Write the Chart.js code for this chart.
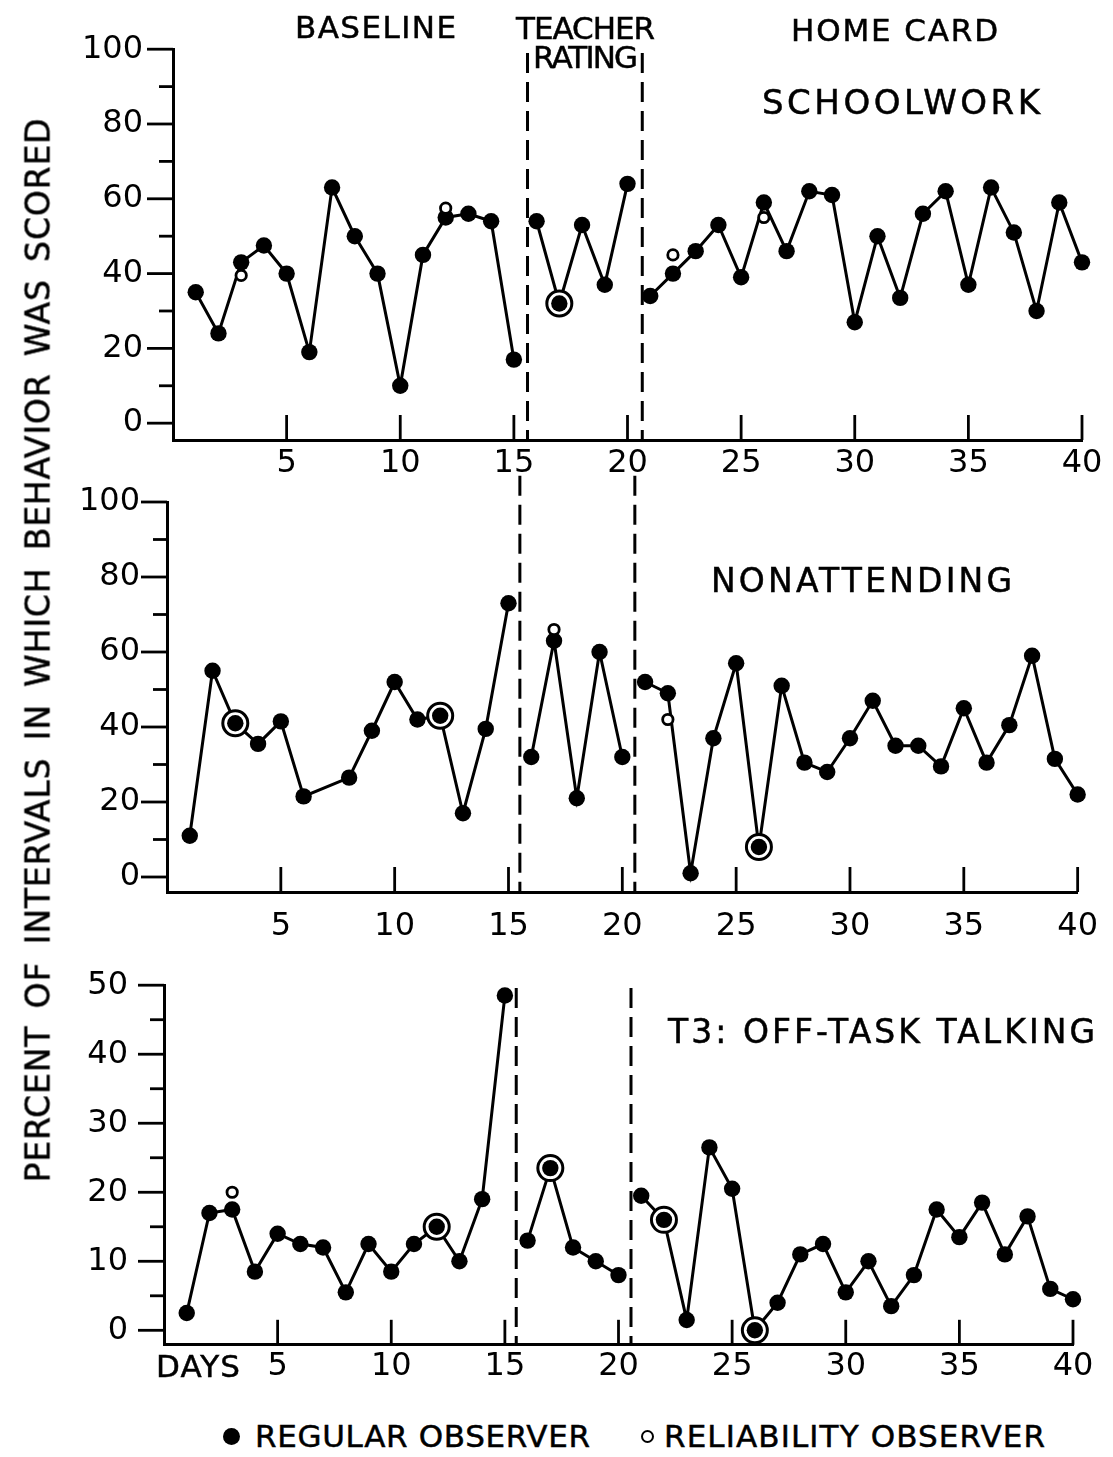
<!DOCTYPE html>
<html><head><meta charset="utf-8">
<script src="https://cdn.jsdelivr.net/npm/chart.js@4.4.1/dist/chart.umd.min.js"></script>
<style>
html,body{margin:0;padding:0;background:#fff;}
#wrap{position:relative;width:1113px;height:1457px;overflow:hidden;background:#fff;}
canvas{position:absolute;left:0;}
.t{position:absolute;white-space:nowrap;line-height:1;font-family:"DejaVu Sans",sans-serif;color:#000;-webkit-text-stroke:0.5px #000;}
.dot{position:absolute;border-radius:50%;box-sizing:border-box;}
</style></head><body><div id="wrap">
<canvas id="c1" width="1113" height="490" style="top:0px"></canvas>
<canvas id="c2" width="1113" height="500" style="top:440px"></canvas>
<canvas id="c3" width="1113" height="470" style="top:930px"></canvas>
</div>
<script>
// ---------- data ----------
const days = [1,2,3,4,5,6,7,8,9,10,11,12,13,14,15,16,17,18,19,20,21,22,23,24,25,26,27,28,29,30,31,32,33,34,35,36,37,38,39,40];
const phaseBreakAfter = [15, 20];
const xTickValues = [5,10,15,20,25,30,35,40];

const schoolwork = [35,24,43,47.5,40,19,63,50,40,10,45,55,56,54,17, 54,32,53,37,64, 34,40,46,53,39,59,46,62,61,27,50,33.5,56,62,37,63,51,30,59,43];
const schoolworkRelDays = [3,12,17,22,26];
const schoolworkRelValues = [39.5,57.5,32,45,55];

const nonattending = [11,55,41,35.5,41.5,21.5,null,26.5,39,52,42,43,17,39.5,73, 32,63,21,60,32, 52,49,1,37,57,8,51,30.5,28,37,47,35,35,29.5,45,30.5,40.5,59,31.5,22];
const nonattendingRelDays = [3,12,17,22,26];
const nonattendingRelValues = [41,43,66,42,8];

const offTask = [2.5,17,17.5,8.5,14,12.5,12,5.5,12.5,8.5,12.5,15,10,19,48.5, 13,23.5,12,10,8, 19.5,16,1.5,26.5,20.5,0,4,11,12.5,5.5,10,3.5,8,17.5,13.5,18.5,11,16.5,6,4.5];
const offTaskRelDays = [3,12,17,22,26];
const offTaskRelValues = [20,15,23.5,16,0];

const yTicks100 = [0,10,20,30,40,50,60,70,80,90,100];
const yTicks50 = [0,5,10,15,20,25,30,35,40,45,50];

// phase-change lines (day position)
const schoolworkPhaseX = [15.6, 20.65];
const nonattendingPhaseX = [15.5, 20.55];
const offTaskPhaseX = [15.5, 20.55];

// ---------- drawing ----------
const FONT = '"DejaVu Sans", sans-serif';
const handTicks = {
  id: 'handTicks',
  afterDraw(chart, args, o) {
    const {ctx, chartArea, scales} = chart;
    const x = scales.x, y = scales.y;
    ctx.save();
    ctx.strokeStyle = '#000';
    ctx.lineWidth = 2.8;
    ctx.lineCap = 'butt';
    o.xTicks.forEach(v => {
      const px = x.getPixelForValue(v);
      ctx.beginPath(); ctx.moveTo(px, chartArea.bottom); ctx.lineTo(px, chartArea.bottom - o.xLen); ctx.stroke();
    });
    o.yTicks.forEach(v => {
      const py = y.getPixelForValue(v);
      const len = (v % o.labelStep === 0) ? o.yMajor : o.yMinor;
      ctx.beginPath(); ctx.moveTo(chartArea.left, py); ctx.lineTo(chartArea.left - len, py); ctx.stroke();
    });
    ctx.restore();
  }
};

function makePanel(id, c) {
  const line = [];
  days.forEach((d, i) => { if (c.values[i] !== null) line.push({x: d, y: c.values[i]}); });
  const rings = [], opens = [];
  c.relDays.forEach((d, i) => {
    const reg = c.values[d - 1];
    if (reg === c.relValues[i]) rings.push({x: d, y: c.relValues[i]});
    else opens.push({x: d, y: c.relValues[i]});
  });
  const datasets = [];
  c.phaseX.forEach(px => {
    datasets.push({data: [{x: px, y: c.phaseTop}, {x: px, y: c.yMin}], borderColor: '#000', borderWidth: 3,
      borderDash: [20, 9], pointRadius: 0, clip: false, order: 6, tension: 0});
  });
  datasets.push({data: line, borderColor: '#000', borderWidth: 3, pointRadius: 0, spanGaps: true, clip: false, order: 5,
    segment: {borderColor: s => phaseBreakAfter.includes(s.p0.parsed.x) ? 'rgba(0,0,0,0)' : '#000'}});
  datasets.push({data: rings, showLine: false, pointRadius: 12.5, pointHoverRadius: 12.5, pointBorderWidth: 3,
    pointBackgroundColor: '#fff', pointBorderColor: '#000', clip: false, order: 3});
  datasets.push({data: line, showLine: false, pointRadius: 8.2, pointHoverRadius: 8.2, pointBorderWidth: 0,
    pointBackgroundColor: '#000', pointBorderColor: '#000', clip: false, order: 2});
  datasets.push({data: opens, showLine: false, pointRadius: 5.2, pointHoverRadius: 5.2, pointBorderWidth: 2.8,
    pointBackgroundColor: '#fff', pointBorderColor: '#000', clip: false, order: 1});

  new Chart(document.getElementById(id), {
    type: 'line',
    data: {datasets},
    plugins: [handTicks],
    options: {
      responsive: false, animation: false, events: [],
      layout: {padding: {left: 0, right: c.right, top: c.top, bottom: 0}, autoPadding: false},
      plugins: {legend: {display: false}, tooltip: {enabled: false},
        handTicks: {xTicks: xTickValues, yTicks: c.yTicks, labelStep: c.labelStep, xLen: 25, yMajor: 26, yMinor: 14}},
      scales: {
        x: {type: 'linear', min: 0, max: 40,
          afterBuildTicks: s => { s.ticks = xTickValues.map(v => ({value: v})); },
          afterFit: s => { s.height = c.xH; },
          grid: {display: true, drawOnChartArea: false, drawTicks: false},
          border: {display: true, color: '#000', width: 3},
          ticks: {padding: c.xPad, color: '#000', font: {family: FONT, size: 32}, maxRotation: 0, autoSkip: false}},
        y: {type: 'linear', min: c.yMin, max: c.yMax,
          afterBuildTicks: s => { s.ticks = c.yTicks.map(v => ({value: v})); },
          afterFit: s => { s.width = c.left; },
          grid: {display: true, drawOnChartArea: false, drawTicks: false},
          border: {display: true, color: '#000', width: 3},
          ticks: {padding: c.yPad, color: '#000', font: {family: FONT, size: 32}, autoSkip: false,
            callback: v => (v % c.labelStep === 0 ? String(v) : '')}}
      }
    }
  });
}

makePanel('c1', {values: schoolwork, relDays: schoolworkRelDays, relValues: schoolworkRelValues, phaseX: schoolworkPhaseX,
  phaseTop: 99, yMin: -4.5, yMax: 100, yTicks: yTicks100, labelStep: 20, left: 173, right: 31, top: 46, xH: 50, xPad: 4, yPad: 30});
makePanel('c2', {values: nonattending, relDays: nonattendingRelDays, relValues: nonattendingRelValues, phaseX: nonattendingPhaseX,
  phaseTop: 107, yMin: -4, yMax: 100, yTicks: yTicks100, labelStep: 20, left: 167, right: 34, top: 62, xH: 48, xPad: 15, yPad: 27});
makePanel('c3', {values: offTask, relDays: offTaskRelDays, relValues: offTaskRelValues, phaseX: offTaskPhaseX,
  phaseTop: 49.6, yMin: -2.1, yMax: 50, yTicks: yTicks50, labelStep: 10, left: 164, right: 40, top: 25, xH: 52, xPad: 3, yPad: 36});

// ---------- text ----------
const wrap = document.getElementById('wrap');
const mctx = document.createElement('canvas').getContext('2d');
function fitSpacing(text, fs, target) {
  mctx.font = fs + 'px ' + FONT;
  const w = mctx.measureText(text).width;
  return (target - w) / Math.max(1, text.length - 1);
}
function place(text, x1, x2, cy, fs) {
  const el = document.createElement('div');
  el.className = 't'; el.textContent = text;
  el.style.fontSize = fs + 'px';
  el.style.letterSpacing = fitSpacing(text, fs, x2 - x1) + 'px';
  el.style.left = x1 + 'px';
  el.style.top = (cy - fs * 0.48) + 'px';
  wrap.appendChild(el);
}
place('BASELINE', 295, 456, 27, 31);
place('TEACHER', 516, 655, 28, 31);
place('RATING', 533, 638, 57, 31);
place('HOME CARD', 791, 998, 30, 31);
place('SCHOOLWORK', 762, 1040, 101, 34);
place('NONATTENDING', 711, 1012, 580, 33);
place('T3: OFF-TASK TALKING', 668, 1095, 1031, 33);
place('DAYS', 156, 240, 1366, 31);
place('REGULAR OBSERVER', 255, 590, 1436, 31);
place('RELIABILITY OBSERVER', 664, 1045, 1436, 31);

// y-axis title (vertical)
const yt = 'PERCENT OF INTERVALS IN WHICH BEHAVIOR WAS SCORED';
const ytWordGap = 6;
const ytSpaces = yt.split(' ').length - 1;
const ytEl = document.createElement('div');
ytEl.className = 't'; ytEl.textContent = yt;
ytEl.style.fontSize = '33px';
ytEl.style.letterSpacing = fitSpacing(yt, 33, 1064 - ytSpaces * ytWordGap) + 'px';
ytEl.style.wordSpacing = ytWordGap + 'px';
ytEl.style.left = '38px'; ytEl.style.top = '650px';
ytEl.style.transform = 'translate(-50%,-50%) rotate(-90deg)';
wrap.appendChild(ytEl);

// legend markers
const d1 = document.createElement('div'); d1.className = 'dot';
Object.assign(d1.style, {left: '223px', top: '1428px', width: '17px', height: '17px', background: '#000'});
wrap.appendChild(d1);
const d2 = document.createElement('div'); d2.className = 'dot';
Object.assign(d2.style, {left: '641px', top: '1430px', width: '13px', height: '13px', border: '2.8px solid #000', background: '#fff'});
wrap.appendChild(d2);
</script>
</body></html>
